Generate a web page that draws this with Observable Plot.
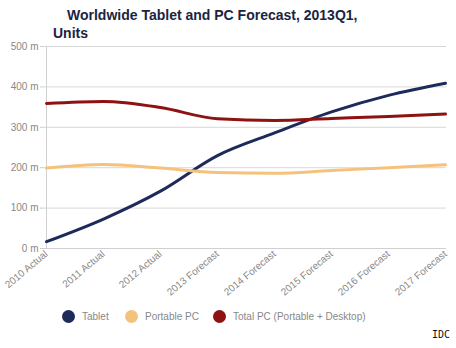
<!DOCTYPE html>
<html>
<head>
<meta charset="utf-8">
<script src="https://cdn.jsdelivr.net/npm/d3@7"></script>
<script src="https://cdn.jsdelivr.net/npm/@observablehq/plot@0.6"></script>
<style>
  body { margin: 0; background: #fff; font-family: "Liberation Sans", Arial, sans-serif; }
  #wrap { position: relative; width: 456px; height: 348px; overflow: hidden; }
  .title { position: absolute; font-weight: bold; font-size: 14px; line-height: 16px; color: #1b2442; white-space: nowrap; }
  #chart { position: absolute; left: 0; top: 40px; }
  .leg { position: absolute; top: 310px; font-size: 10px; color: #888; display: flex; align-items: center; }
  .dot { width: 13px; height: 13px; border-radius: 50%; display: inline-block; margin-right: 7px; }
  #src { position: absolute; left: 432px; top: 329px; font-family: "DejaVu Sans Mono", monospace; font-size: 10px; color: #111; }
</style>
</head>
<body>
<div id="wrap">
  <div class="title" style="left:67px; top:7px;">Worldwide Tablet and PC Forecast, 2013Q1,</div>
  <div class="title" style="left:53px; top:25px;">Units</div>
  <div id="chart"></div>
  <div id="legend"></div>
  <div id="src">IDC</div>
</div>
<script>
const years = ["2010 Actual", "2011 Actual", "2012 Actual", "2013 Forecast", "2014 Forecast", "2015 Forecast", "2016 Forecast", "2017 Forecast"];
const tablet = [17, 73, 142, 230, 286, 338, 379, 409];
const portablePC = [199, 208, 199, 188, 186, 193, 200, 207];
const totalPC = [359, 364, 349, 321, 317, 322, 327, 333];
const seriesNames = ["Tablet", "Portable PC", "Total PC (Portable + Desktop)"];
const seriesColors = ["#1d2a5a", "#f5c27c", "#8e1212"];
const yTicks = [0, 100, 200, 300, 400, 500];

const allSeries = [tablet, portablePC, totalPC];
const rows = [];
allSeries.forEach((vals, si) => {
  vals.forEach((v, i) => rows.push({ year: years[i], value: v, series: seriesNames[si] }));
});

const chart = Plot.plot({
  width: 456,
  height: 265,
  marginLeft: 44,
  marginRight: 10,
  marginTop: 6,
  marginBottom: 57,
  style: { fontFamily: "Liberation Sans, Arial, sans-serif", fontSize: "10px", color: "#888", background: "transparent" },
  x: { type: "point", domain: years, padding: 0, label: null },
  y: { domain: [0, 500], label: null },
  color: { domain: seriesNames, range: seriesColors },
  marks: [
    Plot.gridY(yTicks, { stroke: "#d8d8d8", strokeOpacity: 1 }),
    Plot.ruleX([years[0]], { stroke: "#d0d0d0" }),
    Plot.ruleY([0], { stroke: "#d0d0d0" }),
    Plot.axisY(yTicks, { tickFormat: d => d + " m", tickSize: 4, stroke: "#ccc", fill: "#888", tickPadding: 2 }),
    Plot.axisX(years, { tickRotate: -40, tickSize: 0, tickPadding: 4, fill: "#888" }),
    Plot.line(rows, { x: "year", y: "value", z: "series", stroke: "series", strokeWidth: 3, curve: "monotone-x" })
  ]
});
document.getElementById("chart").appendChild(chart);

const legendX = [62, 125, 213];
const legend = document.getElementById("legend");
seriesNames.forEach((n, i) => {
  const d = document.createElement("div");
  d.className = "leg";
  d.style.left = legendX[i] + "px";
  d.innerHTML = `<span class="dot" style="background:${seriesColors[i]}"></span>${n}`;
  legend.appendChild(d);
});
</script>
</body>
</html>
